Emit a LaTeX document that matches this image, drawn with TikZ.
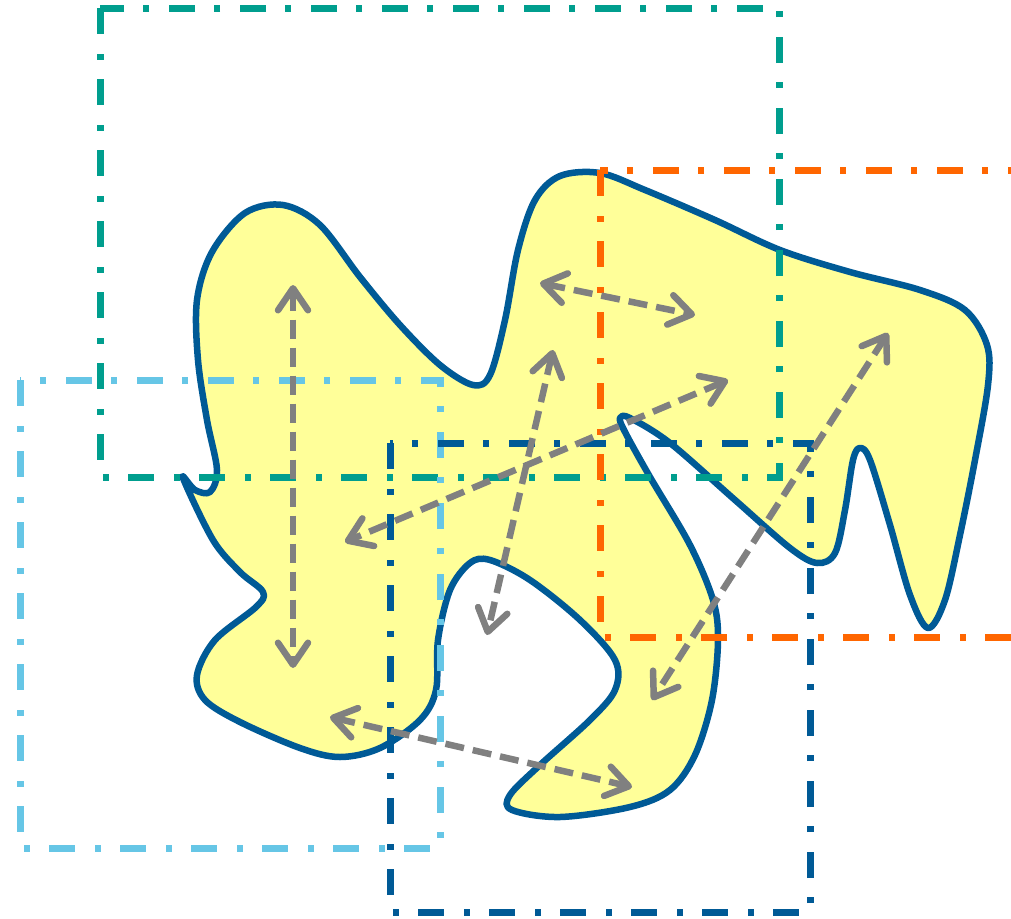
\documentclass[tikz,border=0pt]{standalone}
\usetikzlibrary{arrows.meta}
\definecolor{tealc}{RGB}{0,158,142}
\definecolor{orangec}{RGB}{255,102,0}
\definecolor{lightbluec}{RGB}{102,198,230}
\definecolor{darkbluec}{RGB}{0,90,150}
\definecolor{yellowc}{RGB}{255,255,153}
\definecolor{grayc}{RGB}{128,128,128}
\tikzset{
  blob/.style={draw=darkbluec, fill=yellowc, line width=6.5pt, line join=round},
  region/.style={line width=7pt, dash pattern=on 26pt off 20pt on 6pt off 19pt},
  link/.style={draw=grayc, line width=6.5pt, dash pattern=on 19pt off 9pt,
    {Straight Barb[length=22pt,width=30pt,round]}-{Straight Barb[length=22pt,width=30pt,round]}}
}
\begin{document}
\begin{tikzpicture}[x=1pt,y=-1pt]
\useasboundingbox (0,0) rectangle (1011,918);
\clip (0,0) rectangle (1011,918);
% blob
\draw[blob] plot[smooth cycle, tension=0.55] coordinates {
(183,478) (213,540) (240,572) (263,592) (256,607) (215,640) (197,675) (205,700)
(240,722) (300,748) (340,757) (380,748) (420,720) (436,690) (438,640) (450,590)
(470,563) (490,560) (530,580) (580,620) (615,660) (615,690) (590,720) (540,765)
(510,795) (512,810) (560,817) (630,807) (670,790) (695,755) (712,700) (718,640)
(713,600) (690,545) (650,477) (625,432) (620,418) (630,418) (670,443) (735,500)
(790,548) (817,563) (835,553) (845,510) (853,460) (860,448) (870,460) (890,525)
(910,595) (928,628) (945,600) (960,535) (975,460) (988,385) (987,345) (965,310)
(920,290) (850,272) (780,250) (715,220) (645,190) (600,173) (560,176) (535,200)
(518,250) (505,320) (490,375) (473,385) (440,365) (400,325) (360,277) (320,225)
(283,205) (245,213) (212,252) (197,300) (198,360) (207,420) (217,470) (210,492)
(195,490)};
% regions
\draw[region, tealc] (100,8) rectangle (779,477);
\draw[region, lightbluec] (20,380) rectangle (440,848);
\draw[region, darkbluec] (390,443) rectangle (810,912);
\draw[region, orangec] (600,170) rectangle (1060,637);
% connectors
\coordinate (a1) at (293,285); \coordinate (a2) at (293,668);
\coordinate (b1) at (540,283); \coordinate (b2) at (695,315);
\coordinate (c1) at (553,350); \coordinate (c2) at (487,635);
\coordinate (d1) at (728,380); \coordinate (d2) at (345,542);
\coordinate (e1) at (888,333); \coordinate (e2) at (652,700);
\coordinate (f1) at (330,717); \coordinate (f2) at (632,787);
\draw[link] (a1) -- (a2);
\draw[link] (b1) -- (b2);
\draw[link] (c1) -- (c2);
\draw[link] (d1) -- (d2);
\draw[link] (e1) -- (e2);
\draw[link] (f1) -- (f2);
\end{tikzpicture}
\end{document}
